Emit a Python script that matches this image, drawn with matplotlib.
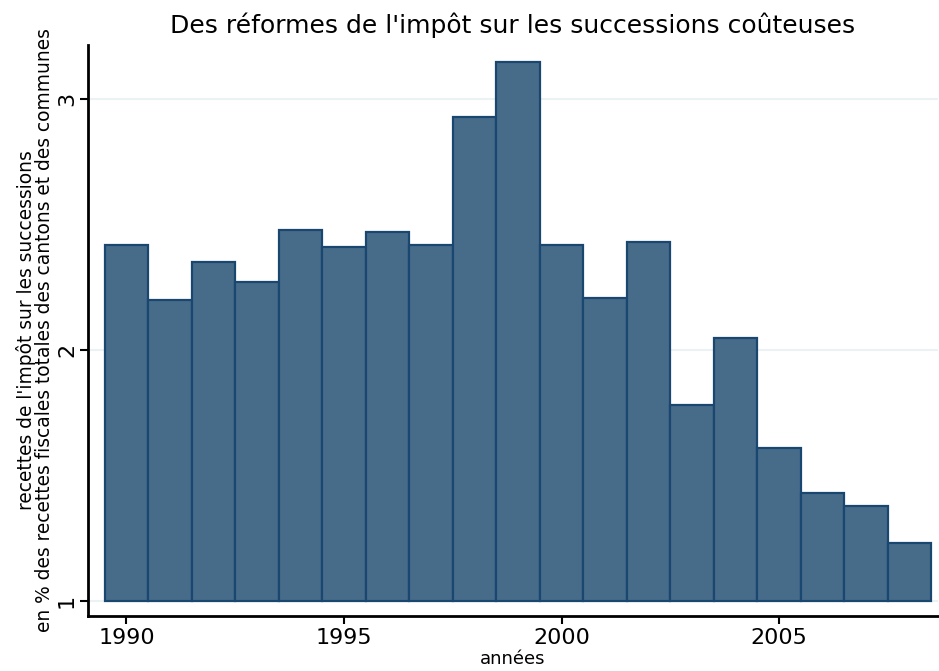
import matplotlib
matplotlib.use("Agg")
import matplotlib.pyplot as plt

years = [1990, 1991, 1992, 1993, 1994, 1995, 1996, 1997, 1998, 1999,
         2000, 2001, 2002, 2003, 2004, 2005, 2006, 2007, 2008]
values = [2.42, 2.20, 2.35, 2.27, 2.48, 2.41, 2.47, 2.42, 2.93, 3.15,
          2.42, 2.21, 2.43, 1.78, 2.05, 1.61, 1.43, 1.38, 1.23]
xticks = [1990, 1995, 2000, 2005]
yticks = [1, 2, 3]
title = "Des réformes de l'impôt sur les successions coûteuses"
ylabel = "recettes de l'impôt sur les successions\nen % des recettes fiscales totales des cantons et des communes"
xlabel = "années"

plt.rcParams['font.family'] = ['DejaVu Sans']

fig = plt.figure(figsize=(9.39, 6.71), dpi=100)
ax = fig.add_axes([88/939, 1 - 616/671, (938-88)/939, (616-45)/671])

base = 1.0
ax.bar(years, [v - base for v in values], bottom=base, width=1.0,
       color='#476c8a', edgecolor='#1a476f', linewidth=1.6, zorder=3)

for y in yticks:
    ax.axhline(y, color='#eaf2f3', linewidth=1.5, zorder=1)

ax.set_xlim(1989.115, 2008.655)
ax.set_ylim(0.94, 3.217)
ax.set_xticks(xticks)
ax.set_yticks(yticks)
ax.tick_params(axis='both', direction='out', length=6, width=1.5, labelsize=16)
ax.tick_params(axis='x', pad=3)
ax.tick_params(axis='y', pad=2)
for lbl in ax.get_yticklabels():
    lbl.set_rotation(90)
    lbl.set_va('center')

for s in ['top', 'right']:
    ax.spines[s].set_visible(False)
for s in ['left', 'bottom']:
    ax.spines[s].set_linewidth(2)

ax.set_title(title, fontsize=18, pad=9)
ax.set_ylabel(ylabel, fontsize=13.4, linespacing=0.95, labelpad=2)
ax.set_xlabel(xlabel, fontsize=13, labelpad=1)

fig.savefig("out.png", dpi=100)
